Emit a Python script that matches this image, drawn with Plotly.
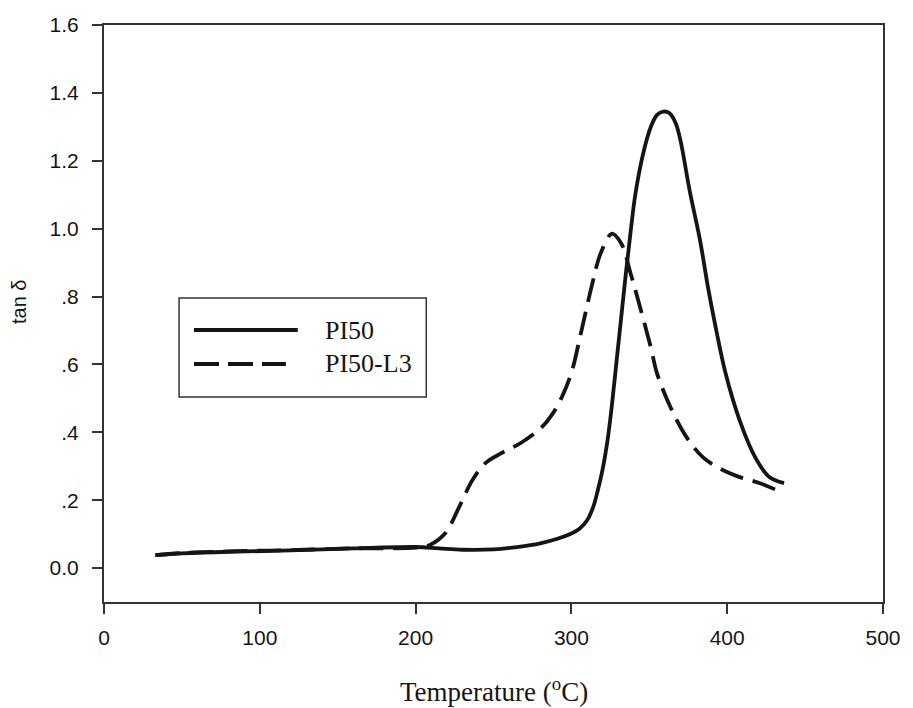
import plotly.graph_objects as go

# PI50 (solid)
pi50_x = [33, 50, 80, 120, 160, 200, 215, 230, 250, 265, 280, 292, 300, 305, 310, 314, 317, 320, 323,
          326, 329, 332, 335, 338, 341, 346, 351, 355, 359, 363, 367, 370, 376, 382.6, 387.7, 393, 399,
          408, 418, 427, 436.5]
pi50_y = [0.038, 0.043, 0.048, 0.052, 0.058, 0.062, 0.058, 0.054, 0.055, 0.062, 0.073, 0.088, 0.102,
          0.115, 0.14, 0.18, 0.23, 0.29, 0.37, 0.48, 0.61, 0.74, 0.87, 0.99, 1.10, 1.22, 1.30, 1.335,
          1.345, 1.34, 1.31, 1.26, 1.11, 0.965, 0.826, 0.70, 0.573, 0.435, 0.326, 0.268, 0.25]

# PI50-L3 (dashed)
l3_x = [33, 50, 80, 120, 160, 205, 210, 215, 220, 228, 236.6, 245, 255.7, 268, 281, 288, 294, 300,
        306, 313, 319, 326, 332, 338, 344, 351, 355, 363.6, 374, 384.5, 395, 408, 421, 436.5]
l3_y = [0.038, 0.044, 0.049, 0.053, 0.058, 0.062, 0.07, 0.085, 0.108, 0.18, 0.26, 0.31, 0.34, 0.37,
        0.415, 0.455, 0.505, 0.575, 0.69, 0.83, 0.93, 0.985, 0.956, 0.868, 0.77, 0.65, 0.573, 0.474,
        0.385, 0.326, 0.294, 0.268, 0.25, 0.22]

y_tickvals = [0, 0.2, 0.4, 0.6, 0.8, 1.0, 1.2, 1.4, 1.6]
y_ticktext = ["0.0", ".2", ".4", ".6", ".8", "1.0", "1.2", "1.4", "1.6"]
x_tickvals = [0, 100, 200, 300, 400, 500]

series_names = ["PI50", "PI50-L3"]

INK = "#151515"
LINE_DASH = "24px,10px"

fig = go.Figure()
fig.add_trace(go.Scatter(x=pi50_x, y=pi50_y, mode="lines", name=series_names[0],
                         line=dict(color=INK, width=3.8, shape="spline", smoothing=1.0)))
fig.add_trace(go.Scatter(x=l3_x, y=l3_y, mode="lines", name=series_names[1],
                         line=dict(color=INK, width=3.8, dash=LINE_DASH, shape="spline", smoothing=1.0)))

fig.update_layout(
    width=913, height=708,
    margin=dict(l=104, r=21, t=25, b=106),
    paper_bgcolor="white", plot_bgcolor="white",
    showlegend=False,
    font=dict(family="Liberation Sans, Arial, sans-serif", color=INK),
)

fig.update_xaxes(range=[0, 500], tickvals=x_tickvals, showline=True, linecolor="#333", linewidth=2,
                 mirror=True, ticks="outside", ticklen=10, tickwidth=2, tickcolor="#333",
                 showgrid=False, zeroline=False, tickfont=dict(size=21, color=INK),
                 ticklabelstandoff=6)
fig.update_yaxes(range=[-0.1, 1.6], tickvals=y_tickvals, ticktext=y_ticktext, showline=True,
                 linecolor="#333", linewidth=2, mirror=True, ticks="outside", ticklen=10, tickwidth=2,
                 tickcolor="#333", showgrid=False, zeroline=False, tickfont=dict(size=21, color=INK),
                 ticklabelstandoff=9)

# axis titles
fig.add_annotation(text="Temperature (<sup>o</sup>C)", xref="paper", yref="paper", x=0.5, y=-0.153,
                   xanchor="center", yanchor="middle", showarrow=False,
                   font=dict(family="Liberation Serif, Times New Roman, serif", size=27, color=INK))
fig.add_annotation(text="tan δ", xref="paper", yref="paper", x=-0.109, y=0.52, textangle=-90,
                   xanchor="center", yanchor="middle", showarrow=False,
                   font=dict(family="Liberation Sans, Arial, sans-serif", size=20, color=INK))

# custom legend box
fig.add_shape(type="rect", xref="paper", yref="paper", x0=0.0964, x1=0.4137, y0=0.3553, y1=0.5269,
              line=dict(color="#333", width=1.5), fillcolor="white", layer="above")
legend_rows = [(0.4714, "solid", 0.2487), (0.4125, "25px,9px", 0.2335)]
for (yy, dash, xe), name in zip(legend_rows, series_names):
    fig.add_shape(type="line", xref="paper", yref="paper", x0=0.1155, x1=xe, y0=yy, y1=yy,
                  line=dict(color=INK, width=4, dash=dash), layer="above")
    fig.add_annotation(text=name, xref="paper", yref="paper", x=0.2805, y=yy, xanchor="left",
                       yanchor="middle", showarrow=False,
                       font=dict(family="Liberation Serif, Times New Roman, serif", size=26, color=INK))

fig.write_html("out.html")
